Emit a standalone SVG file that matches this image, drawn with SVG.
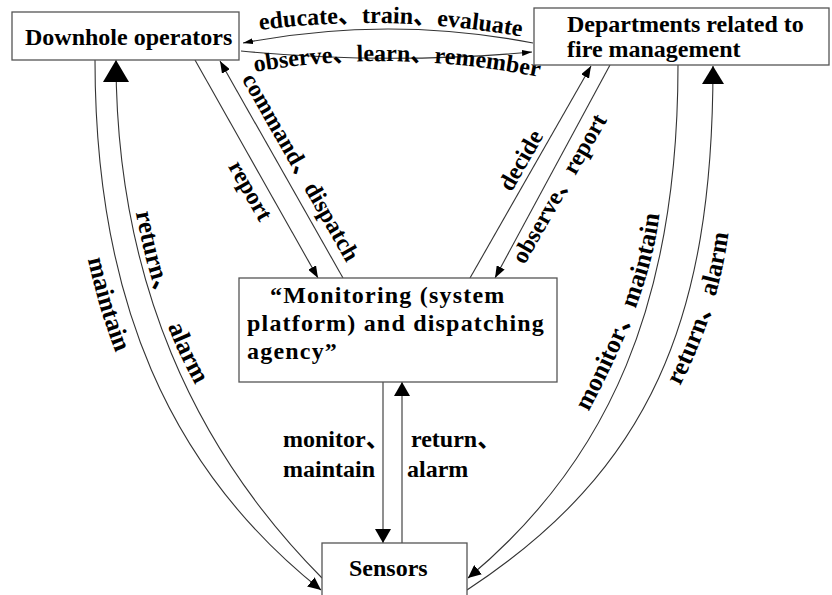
<svg xmlns="http://www.w3.org/2000/svg" width="832" height="595" viewBox="0 0 832 595">
  <style>
    .box { fill: #fff; stroke: #555; stroke-width: 1.3; }
    .ln { fill: none; stroke: #333; stroke-width: 1.1; }
    .t { font-family: "Liberation Serif", "Noto Sans CJK SC", serif; font-weight: bold; font-size: 24px; fill: #000; white-space: pre; }
    .tm { letter-spacing: 1.2px; }
    .tc { font-size: 25.5px; }
    .ah { fill: #000; }
  </style>
  <defs>
    <marker id="aTop" viewBox="0 0 10 6" refX="10" refY="3" markerWidth="10" markerHeight="6" markerUnits="userSpaceOnUse" orient="auto"><path class="ah" d="M0,0L10,3L0,6z"/></marker>
    <marker id="aS" viewBox="0 0 12 9" refX="12" refY="4.5" markerWidth="12" markerHeight="9" markerUnits="userSpaceOnUse" orient="auto"><path class="ah" d="M0,0L12,4.5L0,9z"/></marker>
    <marker id="aSide" viewBox="0 0 13 12" refX="13" refY="6" markerWidth="13" markerHeight="12" markerUnits="userSpaceOnUse" orient="auto"><path class="ah" d="M0,0L13,6L0,12z"/></marker>
    <marker id="aMid" viewBox="0 0 14 16" refX="14" refY="8" markerWidth="14" markerHeight="16" markerUnits="userSpaceOnUse" orient="auto"><path class="ah" d="M0,0L14,8L0,16z"/></marker>
    <marker id="aBigL" viewBox="0 0 22 26" refX="22" refY="13" markerWidth="22" markerHeight="26" markerUnits="userSpaceOnUse" orient="auto"><path class="ah" d="M0,0L22,13L0,26z"/></marker>
    <marker id="aBigR" viewBox="0 0 18 22" refX="18" refY="11" markerWidth="18" markerHeight="22" markerUnits="userSpaceOnUse" orient="auto"><path class="ah" d="M0,0L18,11L0,22z"/></marker>

    <!-- baselines for the curved labels -->
    <path id="pEducate" d="M252,31 Q390,12 529,38"/>
    <path id="pObserve" d="M255,72 Q392,48 539,77"/>
    <path id="pMaintainL" d="M74,184 Q97,338 146,412"/>
    <path id="pReturnL" d="M132,189 Q150,310 203,398"/>
    <path id="pMonitorR" d="M585,418 Q655,290 661,198"/>
    <path id="pReturnR" d="M656,428 Q725.6,318.5 732,195"/>
  </defs>

  <!-- connectors -->
  <g id="connectors">
    <!-- between operators and departments -->
    <path class="ln" d="M533,43 Q388,15 243,43" marker-end="url(#aTop)"/>
    <path class="ln" d="M241,51 Q388,65 532,52" marker-end="url(#aTop)"/>
    <!-- operators <-> monitoring -->
    <path class="ln" d="M195,60 L318,278" marker-end="url(#aS)"/>
    <path class="ln" d="M343,278 L220,61" marker-end="url(#aS)"/>
    <!-- monitoring <-> departments -->
    <path class="ln" d="M470,278 L591,66" marker-end="url(#aS)"/>
    <path class="ln" d="M610,65 L495,278" marker-end="url(#aS)"/>
    <!-- monitoring <-> sensors -->
    <path class="ln" d="M383,382 L383,543" marker-end="url(#aMid)"/>
    <path class="ln" d="M402,543 L402,382" marker-end="url(#aMid)"/>
    <!-- operators <-> sensors -->
    <path class="ln" d="M95,60 C95,300 170,470 321,590" marker-end="url(#aSide)"/>
    <path class="ln" d="M322,578 C195,450 116,280 116,60" marker-end="url(#aBigL)"/>
    <!-- departments <-> sensors -->
    <path class="ln" d="M678,65 C678,300 610,460 468,578" marker-end="url(#aSide)"/>
    <path class="ln" d="M467,590 C650,470 713,320 713,66" marker-end="url(#aBigR)"/>
  </g>

  <!-- connector labels -->
  <g id="labels">
    <text class="t"><textPath href="#pEducate" startOffset="50%" text-anchor="middle">educate、train、evaluate</textPath></text>
    <text class="t"><textPath href="#pObserve" startOffset="50%" text-anchor="middle">observe、learn、remember</textPath></text>
    <text class="t" text-anchor="middle" transform="translate(294,171) rotate(60.3)">command、dispatch</text>
    <text class="t" text-anchor="middle" transform="translate(243.7,194.5) rotate(60.5)">report</text>
    <text class="t" text-anchor="middle" transform="translate(527.6,164.2) rotate(-60.3)">decide</text>
    <text class="t" text-anchor="middle" transform="translate(566,192.5) rotate(-60.3)">observe、report</text>
    <text class="t tc"><textPath href="#pMaintainL" startOffset="52%" text-anchor="middle">maintain</textPath></text>
    <text class="t tc"><textPath href="#pReturnL" startOffset="52%" text-anchor="middle">return、 <tspan dx="16">alarm</tspan></textPath></text>
    <text class="t tc"><textPath href="#pMonitorR" startOffset="48%" text-anchor="middle">monitor、maintain</textPath></text>
    <text class="t tc"><textPath href="#pReturnR" startOffset="52%" text-anchor="middle">return、alarm</textPath></text>
    <text class="t" x="283" y="447">monitor、</text>
    <text class="t" x="283" y="477">maintain</text>
    <text class="t" x="411" y="447">return、</text>
    <text class="t" x="407" y="477">alarm</text>
  </g>

  <!-- nodes -->
  <g id="operators">
    <rect class="box" x="12" y="12" width="227" height="48"/>
    <text class="t" x="25" y="45">Downhole operators</text>
  </g>
  <g id="departments">
    <rect class="box" x="534" y="8" width="295" height="57"/>
    <text class="t" x="567" y="31.5">Departments related to</text>
    <text class="t" x="567" y="57">fire management</text>
  </g>
  <g id="monitoring">
    <rect class="box" x="239" y="278" width="318" height="104"/>
    <text class="t tm" x="270" y="303">“Monitoring (system</text>
    <text class="t tm" x="247" y="331">platform) and dispatching</text>
    <text class="t tm" x="247" y="359">agency”</text>
  </g>
  <g id="sensors">
    <rect class="box" x="322" y="543" width="145" height="60"/>
    <text class="t" x="349" y="576">Sensors</text>
  </g>
</svg>
